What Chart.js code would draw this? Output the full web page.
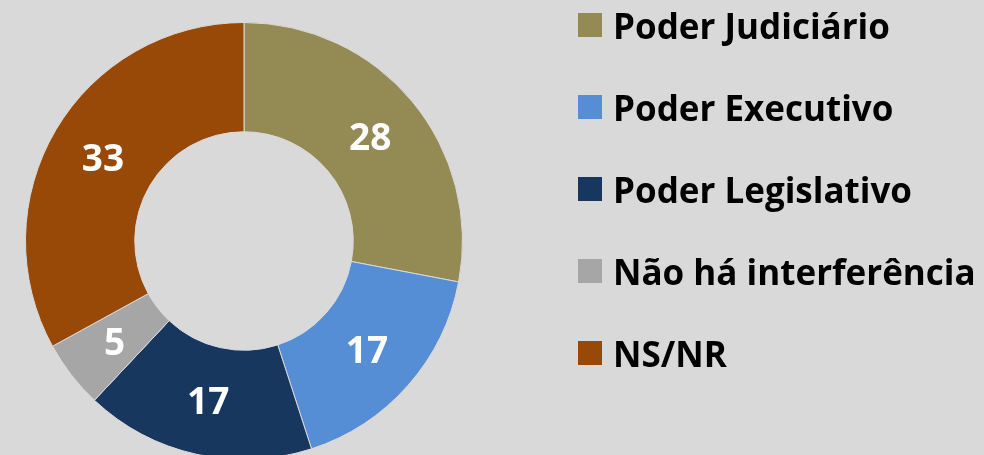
<!DOCTYPE html>
<html>
<head>
<meta charset="utf-8">
<script src="https://cdn.jsdelivr.net/npm/chart.js@4/dist/chart.umd.min.js"></script>
<style>
  html, body { margin: 0; padding: 0; background: #d9d9d9; overflow: hidden; }
  #wrap { position: relative; width: 984px; height: 470px; }
  #legend { position: absolute; left: 578px; top: 0; font-family: "Open Sans", sans-serif; font-weight: bold; font-size: 35px; color: #000; font-variant-ligatures: none; }
  .item { position: absolute; left: 0; white-space: nowrap; height: 24px; }
  .box { position: absolute; left: 0; top: 0; width: 24px; height: 24px; }
  .txt { position: absolute; left: 35px; top: 12px; transform: translateY(-50%); line-height: 1; letter-spacing: 0; }
</style>
</head>
<body>
<div id="wrap">
  <canvas id="chart" width="984" height="470"></canvas>
  <div id="legend"></div>
</div>
<script>
var labels = ['Poder Judiciário', 'Poder Executivo', 'Poder Legislativo', 'Não há interferência', 'NS/NR'];
var values = [28, 17, 17, 5, 33];
var colors = ['#948a54', '#558ed5', '#17375e', '#a6a6a6', '#984807'];

var sliceLabels = {
  id: 'sliceLabels',
  afterDatasetsDraw: function(chart) {
    var ctx = chart.ctx;
    var meta = chart.getDatasetMeta(0);
    ctx.save();
    ctx.fillStyle = '#fff';
    ctx.font = 'bold 37px "Open Sans", sans-serif';
    ctx.textAlign = 'center';
    ctx.textBaseline = 'middle';
    for (var i = 0; i < meta.data.length; i++) {
      var pos = meta.data[i].tooltipPosition();
      ctx.fillText(String(values[i]), pos.x, pos.y + 3);
    }
    ctx.restore();
  }
};

new Chart(document.getElementById('chart').getContext('2d'), {
  type: 'doughnut',
  data: {
    labels: labels,
    datasets: [{
      data: values,
      backgroundColor: colors,
      borderColor: '#d9d9d9',
      borderWidth: 1
    }]
  },
  options: {
    responsive: false,
    animation: false,
    cutout: '50%',
    layout: { padding: { left: 25, right: 521, top: 22, bottom: 10 } },
    plugins: {
      legend: { display: false },
      tooltip: { enabled: false }
    }
  },
  plugins: [sliceLabels]
});

// legend built from the same arrays
var legend = document.getElementById('legend');
for (var i = 0; i < labels.length; i++) {
  var item = document.createElement('div');
  item.className = 'item';
  item.style.top = (13 + i * 82) + 'px';
  item.innerHTML = '<div class="box" style="background:' + colors[i] + '"></div><span class="txt">' + labels[i] + '</span>';
  legend.appendChild(item);
}
</script>
</body>
</html>
